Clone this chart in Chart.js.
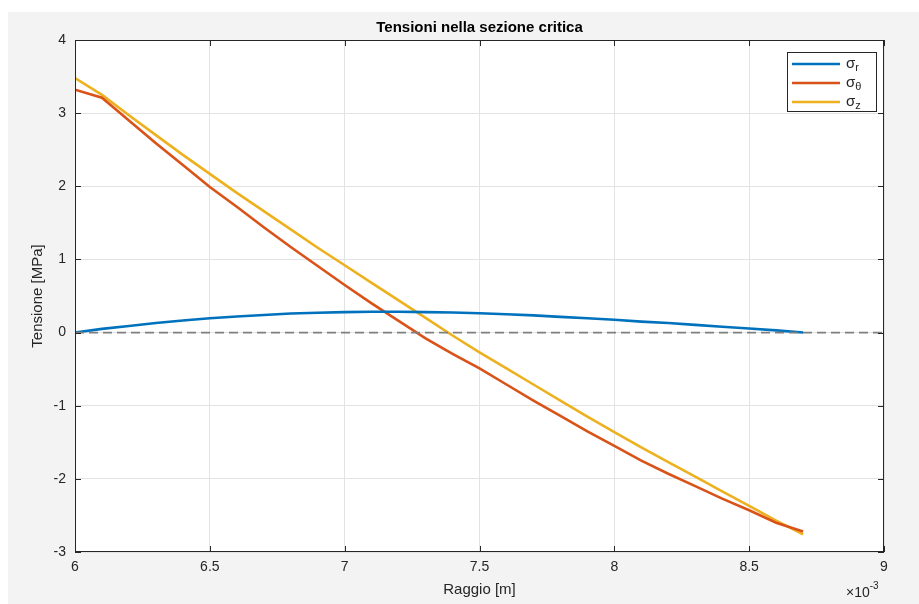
<!DOCTYPE html>
<html>
<head>
<meta charset="utf-8">
<script src="https://cdn.jsdelivr.net/npm/chart.js@4.4.1/dist/chart.umd.min.js"></script>
<style>
  html, body { margin: 0; padding: 0; background: #fff; }
  #wrap { width: 919px; height: 604px; position: relative; }
</style>
</head>
<body>
<div id="wrap"><canvas id="tensChart" width="919" height="604"></canvas></div>
<script>
// raggio in unita' di 1e-3 m
const raggio = [6.0, 6.1, 6.2, 6.3, 6.4, 6.5, 6.6, 6.7, 6.8, 6.9,
                7.0, 7.1, 7.2, 7.3, 7.4, 7.5, 7.6, 7.7, 7.8, 7.9,
                8.0, 8.1, 8.2, 8.3, 8.4, 8.5, 8.6, 8.7];

// tensioni [MPa]
const sigmaR = [0.00, 0.05, 0.09, 0.13, 0.165, 0.195, 0.22, 0.24, 0.26, 0.27,
                0.28, 0.285, 0.285, 0.28, 0.275, 0.265, 0.25, 0.235, 0.215, 0.195,
                0.175, 0.15, 0.13, 0.105, 0.08, 0.055, 0.03, 0.00];
const sigmaTheta = [3.32, 3.21, 2.90, 2.59, 2.29, 1.99, 1.72, 1.44, 1.17, 0.91,
                    0.65, 0.40, 0.16, -0.08, -0.29, -0.49, -0.71, -0.93, -1.14, -1.35,
                    -1.55, -1.75, -1.93, -2.10, -2.27, -2.43, -2.60, -2.72];
const sigmaZ = [3.48, 3.25, 2.97, 2.70, 2.43, 2.17, 1.91, 1.66, 1.41, 1.16,
                0.92, 0.68, 0.44, 0.20, -0.04, -0.27, -0.49, -0.71, -0.93, -1.15,
                -1.36, -1.57, -1.77, -1.97, -2.17, -2.37, -2.57, -2.76];

const xRange = [6, 9];
const yRange = [-3, 4];

const titleText = 'Tensioni nella sezione critica';
const xLabel = 'Raggio [m]';
const yLabel = 'Tensione [MPa]';

const series = [
    { name: 'σ', sub: 'r', data: sigmaR, color: '#0072BD' },
    { name: 'σ', sub: 'θ', data: sigmaTheta, color: '#D95319' },
    { name: 'σ', sub: 'z', data: sigmaZ, color: '#EDB120' }
];

const FONT = '"Liberation Sans", Arial, Helvetica, sans-serif';
const AXIS_COLOR = '#262626';

function toPoints(vals) {
    return raggio.map((r, i) => ({ x: r, y: vals[i] }));
}

const datasets = series.map(s => ({
    label: s.name + s.sub,
    data: toPoints(s.data),
    borderColor: s.color,
    backgroundColor: s.color,
    borderWidth: 2.6,
    pointRadius: 0,
    tension: 0,
    fill: false
}));

// linea di riferimento a zero
datasets.unshift({
    label: 'zero',
    data: [{ x: xRange[0], y: 0 }, { x: xRange[1], y: 0 }],
    borderColor: '#7f7f7f',
    borderWidth: 1.8,
    borderDash: [9, 5],
    pointRadius: 0,
    fill: false
});

const figurePlugin = {
    id: 'figure',
    beforeDraw(chart) {
        const { ctx, chartArea: a } = chart;
        ctx.save();
        ctx.fillStyle = '#ffffff';
        ctx.fillRect(0, 0, chart.width, chart.height);
        ctx.fillStyle = '#f3f3f3';
        ctx.fillRect(8, 12, chart.width - 8, chart.height - 12);
        ctx.fillStyle = '#ffffff';
        ctx.fillRect(a.left, a.top, a.right - a.left, a.bottom - a.top);
        ctx.restore();
    },
    afterDatasetsDraw(chart) {
        const { ctx, chartArea: a, scales } = chart;
        ctx.save();

        // cornice degli assi
        ctx.strokeStyle = AXIS_COLOR;
        ctx.lineWidth = 1;
        ctx.strokeRect(a.left + 0.5, a.top + 0.5, a.right - a.left - 1, a.bottom - a.top - 1);

        // tacche verso l'interno
        ctx.beginPath();
        scales.x.ticks.forEach(t => {
            const px = Math.round(scales.x.getPixelForValue(t.value)) + 0.5;
            ctx.moveTo(px, a.bottom);
            ctx.lineTo(px, a.bottom - 6);
            ctx.moveTo(px, a.top);
            ctx.lineTo(px, a.top + 6);
        });
        scales.y.ticks.forEach(t => {
            const py = Math.round(scales.y.getPixelForValue(t.value)) + 0.5;
            ctx.moveTo(a.left, py);
            ctx.lineTo(a.left + 6, py);
            ctx.moveTo(a.right, py);
            ctx.lineTo(a.right - 6, py);
        });
        ctx.stroke();

        // titolo
        ctx.fillStyle = '#000';
        ctx.font = 'bold 15px ' + FONT;
        ctx.textAlign = 'center';
        ctx.textBaseline = 'middle';
        ctx.fillText(titleText, (a.left + a.right) / 2, 28);

        // etichette degli assi
        ctx.fillStyle = AXIS_COLOR;
        ctx.font = '15px ' + FONT;
        ctx.fillText(xLabel, (a.left + a.right) / 2, 590);
        ctx.save();
        ctx.translate(38, (a.top + a.bottom) / 2);
        ctx.rotate(-Math.PI / 2);
        ctx.fillText(yLabel, 0, 0);
        ctx.restore();

        // esponente asse x
        ctx.textAlign = 'left';
        ctx.textBaseline = 'alphabetic';
        ctx.font = '14px ' + FONT;
        ctx.fillText('×10', 846, 597);
        const w = ctx.measureText('×10').width;
        ctx.font = '10px ' + FONT;
        ctx.fillText('-3', 846 + w, 589);

        // legenda
        const lx = 787, ly = 52, lw = 89, lh = 59;
        ctx.fillStyle = '#ffffff';
        ctx.fillRect(lx, ly, lw, lh);
        ctx.strokeStyle = AXIS_COLOR;
        ctx.lineWidth = 1;
        ctx.strokeRect(lx + 0.5, ly + 0.5, lw, lh);
        series.forEach((s, i) => {
            const y = 64 + i * 19;
            ctx.strokeStyle = s.color;
            ctx.lineWidth = 2.6;
            ctx.beginPath();
            ctx.moveTo(792, y);
            ctx.lineTo(840, y);
            ctx.stroke();
            ctx.fillStyle = AXIS_COLOR;
            ctx.font = '15px ' + FONT;
            ctx.textBaseline = 'alphabetic';
            ctx.fillText(s.name, 846, y + 4);
            const sw = ctx.measureText(s.name).width;
            ctx.font = '11px ' + FONT;
            ctx.fillText(s.sub, 846 + sw, y + 7);
        });

        ctx.restore();
    }
};

const ctx = document.getElementById('tensChart').getContext('2d');
new Chart(ctx, {
    type: 'line',
    data: { datasets },
    options: {
        responsive: false,
        animation: false,
        layout: { padding: { top: 40, right: 35, left: 0, bottom: 0 } },
        plugins: {
            legend: { display: false },
            title: { display: false },
            tooltip: { enabled: false }
        },
        scales: {
            x: {
                type: 'linear',
                min: xRange[0],
                max: xRange[1],
                afterFit: s => { s.height = 52; },
                ticks: {
                    stepSize: 0.5,
                    padding: 7,
                    color: AXIS_COLOR,
                    font: { family: FONT, size: 14 },
                    maxRotation: 0,
                    callback: v => String(Math.round(v * 10) / 10)
                },
                grid: { color: '#e3e3e3', lineWidth: 1, drawTicks: false },
                border: { display: false }
            },
            y: {
                type: 'linear',
                min: yRange[0],
                max: yRange[1],
                afterFit: s => { s.width = 75; },
                ticks: {
                    stepSize: 1,
                    padding: 9,
                    color: AXIS_COLOR,
                    font: { family: FONT, size: 14 }
                },
                grid: { color: '#e3e3e3', lineWidth: 1, drawTicks: false },
                border: { display: false }
            }
        }
    },
    plugins: [figurePlugin]
});
</script>
</body>
</html>
